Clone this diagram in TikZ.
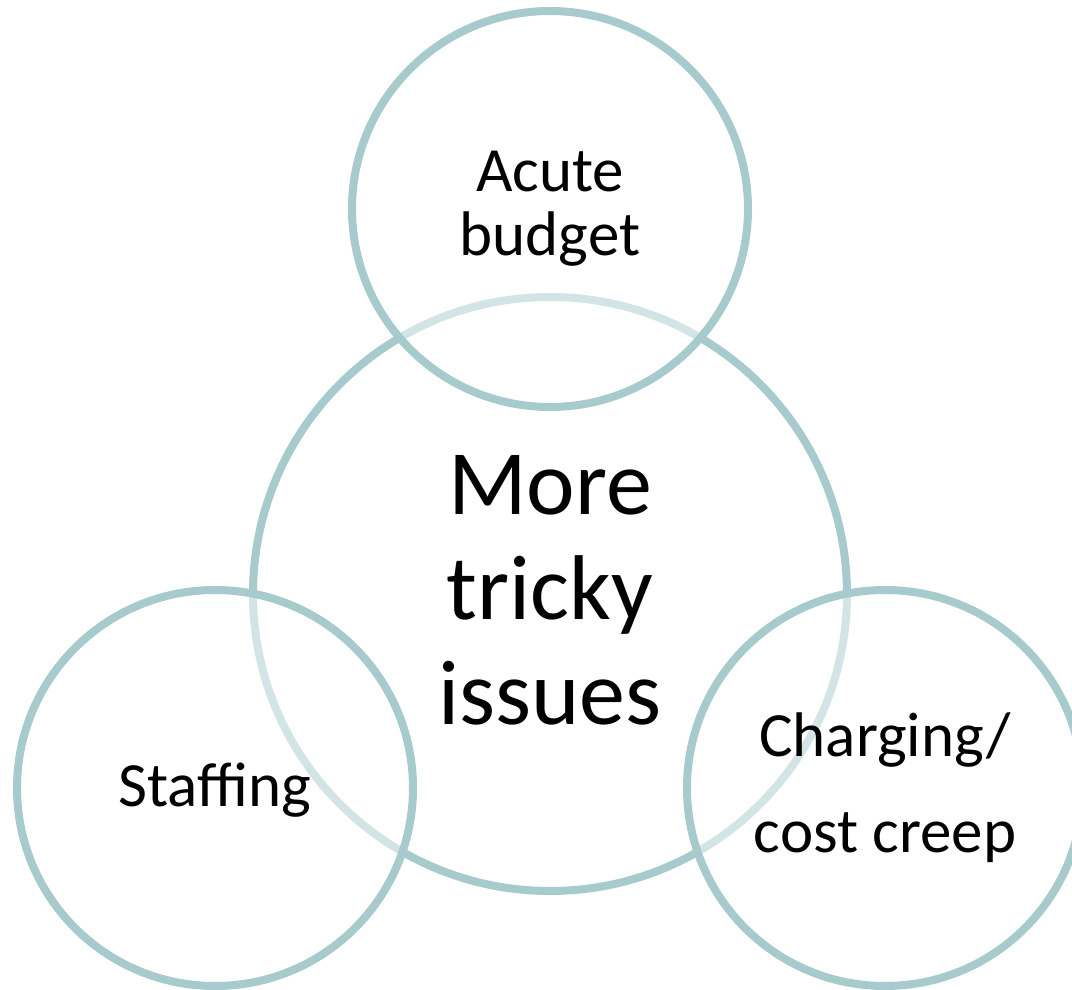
\documentclass[tikz,border=0pt]{standalone}
\usepackage{fontspec}
\setmainfont{Carlito}
\definecolor{ring}{HTML}{A7CACD}
\begin{document}
\begin{tikzpicture}[x=1pt,y=1pt,
  ringbase/.style={circle, draw=ring, line width=8pt, inner sep=0pt},
  bigring/.style={ringbase, minimum size=594pt},
  smallring/.style={ringbase, minimum size=396pt, fill=white, fill opacity=0.5},
  smalltext/.style={align=center, inner sep=0pt, anchor=base, text=black,
    font=\fontsize{63}{64}\selectfont},
  bigtext/.style={align=center, inner sep=0pt, anchor=base, text=black,
    font=\fontsize{92}{105}\selectfont}]
\useasboundingbox (0,0) rectangle (1072,989);
\begin{scope}
\clip (0,0) rectangle (1072,989);
\node[bigring] (big) at (550,395) {};
\node[smallring] (top) at (550,780) {};
\node[smallring] (left) at (215,201) {};
\node[smallring] (right) at (885,201) {};
\end{scope}
\node[smalltext] (acute) at (550,733) {Acute\\budget};
\node[bigtext] (more) at (550,264) {More\\tricky\\issues};
\node[smalltext] (staff) at (215,182) {Staffing};
\node[smalltext, font=\fontsize{63}{96}\selectfont] (charge) at (885,136) {Charging/\\cost creep};
\end{tikzpicture}
\end{document}
